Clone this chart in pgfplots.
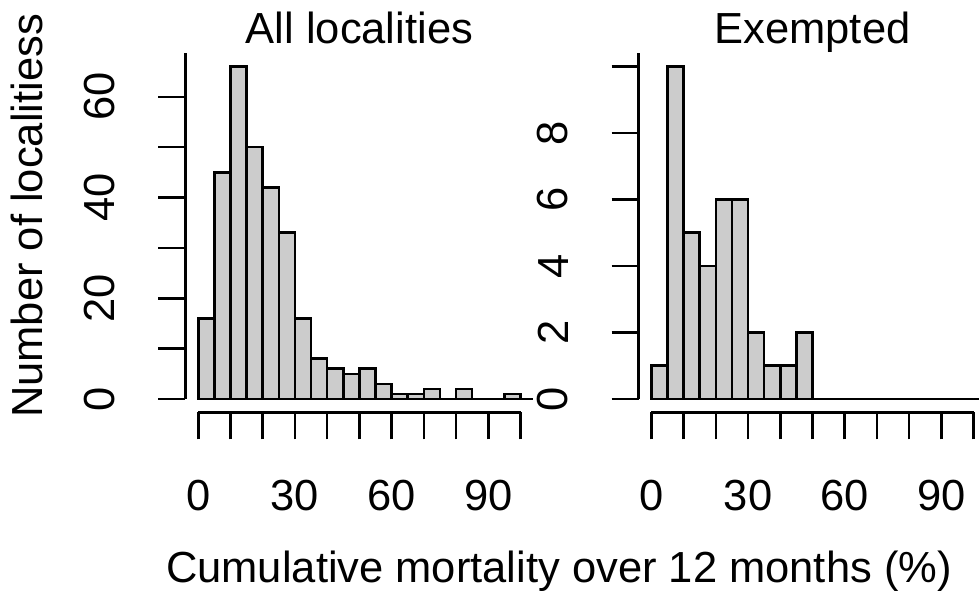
\documentclass[border=0pt]{standalone}
\usepackage{fontspec}
\setmainfont{Liberation Sans}
\usepackage{pgfplots}
\pgfplotsset{compat=1.18}
\definecolor{barfill}{RGB}{204,204,204}
\newcommand{\bigfont}{\fontsize{43.5}{50}\selectfont}
\pgfplotsset{
  rhist/.style={
    scale only axis, width=348pt, height=359pt,
    xmin=-4, xmax=104,
    axis x line*=bottom, axis y line*=left,
    x axis line style={line width=2.6pt, shorten <=12.9pt, shorten >=12.9pt},
    y axis line style={line width=2.6pt, shorten <=13.3pt},
    tick align=outside, major tick length=27pt,
    major tick style={line width=2.6pt, black},
    xtick={0,10,...,100}, xticklabels={0,,,30,,,60,,,90,},
    tick label style={font=\bigfont, inner sep=0pt},
    xticklabel style={anchor=north},
    yticklabel style={rotate=90, anchor=south},
    xticklabel shift=40.7pt,
    yticklabel shift=43pt,
    clip=false,
    anchor=south west,
  }
}
\begin{document}
\begin{tikzpicture}[x=1pt,y=1pt]
\useasboundingbox (0,0) rectangle (979,593);
\begin{axis}[rhist, at={(185.4pt,180.7pt)},
  ymin=-2.64, ymax=68.64,
  ytick={0,10,...,60}, yticklabels={0,,20,,40,,60}]
\addplot[black, line width=2.6pt, no marks] coordinates {(0,0) (104,0)};
\addplot[ybar interval, fill=barfill, draw=black, line width=2.6pt] coordinates {
(0,16) (5,45) (10,66) (15,50) (20,42) (25,33) (30,16) (35,8) (40,6) (45,5)
(50,6) (55,3) (60,1) (65,1) (70,2) (75,0) (80,2) (85,0) (90,0) (95,1) (100,1)};
\end{axis}
\begin{axis}[rhist, at={(638.5pt,180.7pt)},
  ymin=-0.4, ymax=10.4,
  ytick={0,2,...,10}, yticklabels={0,2,4,6,8,}]
\addplot[black, line width=2.6pt, no marks] coordinates {(0,0) (104,0)};
\addplot[ybar interval, fill=barfill, draw=black, line width=2.6pt] coordinates {
(0,1) (5,10) (10,5) (15,4) (20,6) (25,6) (30,2) (35,1) (40,1) (45,2)
(50,0) (55,0) (60,0) (65,0) (70,0) (75,0) (80,0) (85,0) (90,0) (95,0) (100,0)};
\end{axis}
\node[font=\bigfont, anchor=base] at (359.4,549) {All localities};
\node[font=\bigfont, anchor=base] at (812.5,549) {Exempted};
\node[font=\bigfont, anchor=base] at (559,10) {Cumulative mortality over 12 months (\%)};
\node[font=\bigfont, anchor=base, rotate=90] at (42.7,377) {Number of localitiess};
\end{tikzpicture}
\end{document}
